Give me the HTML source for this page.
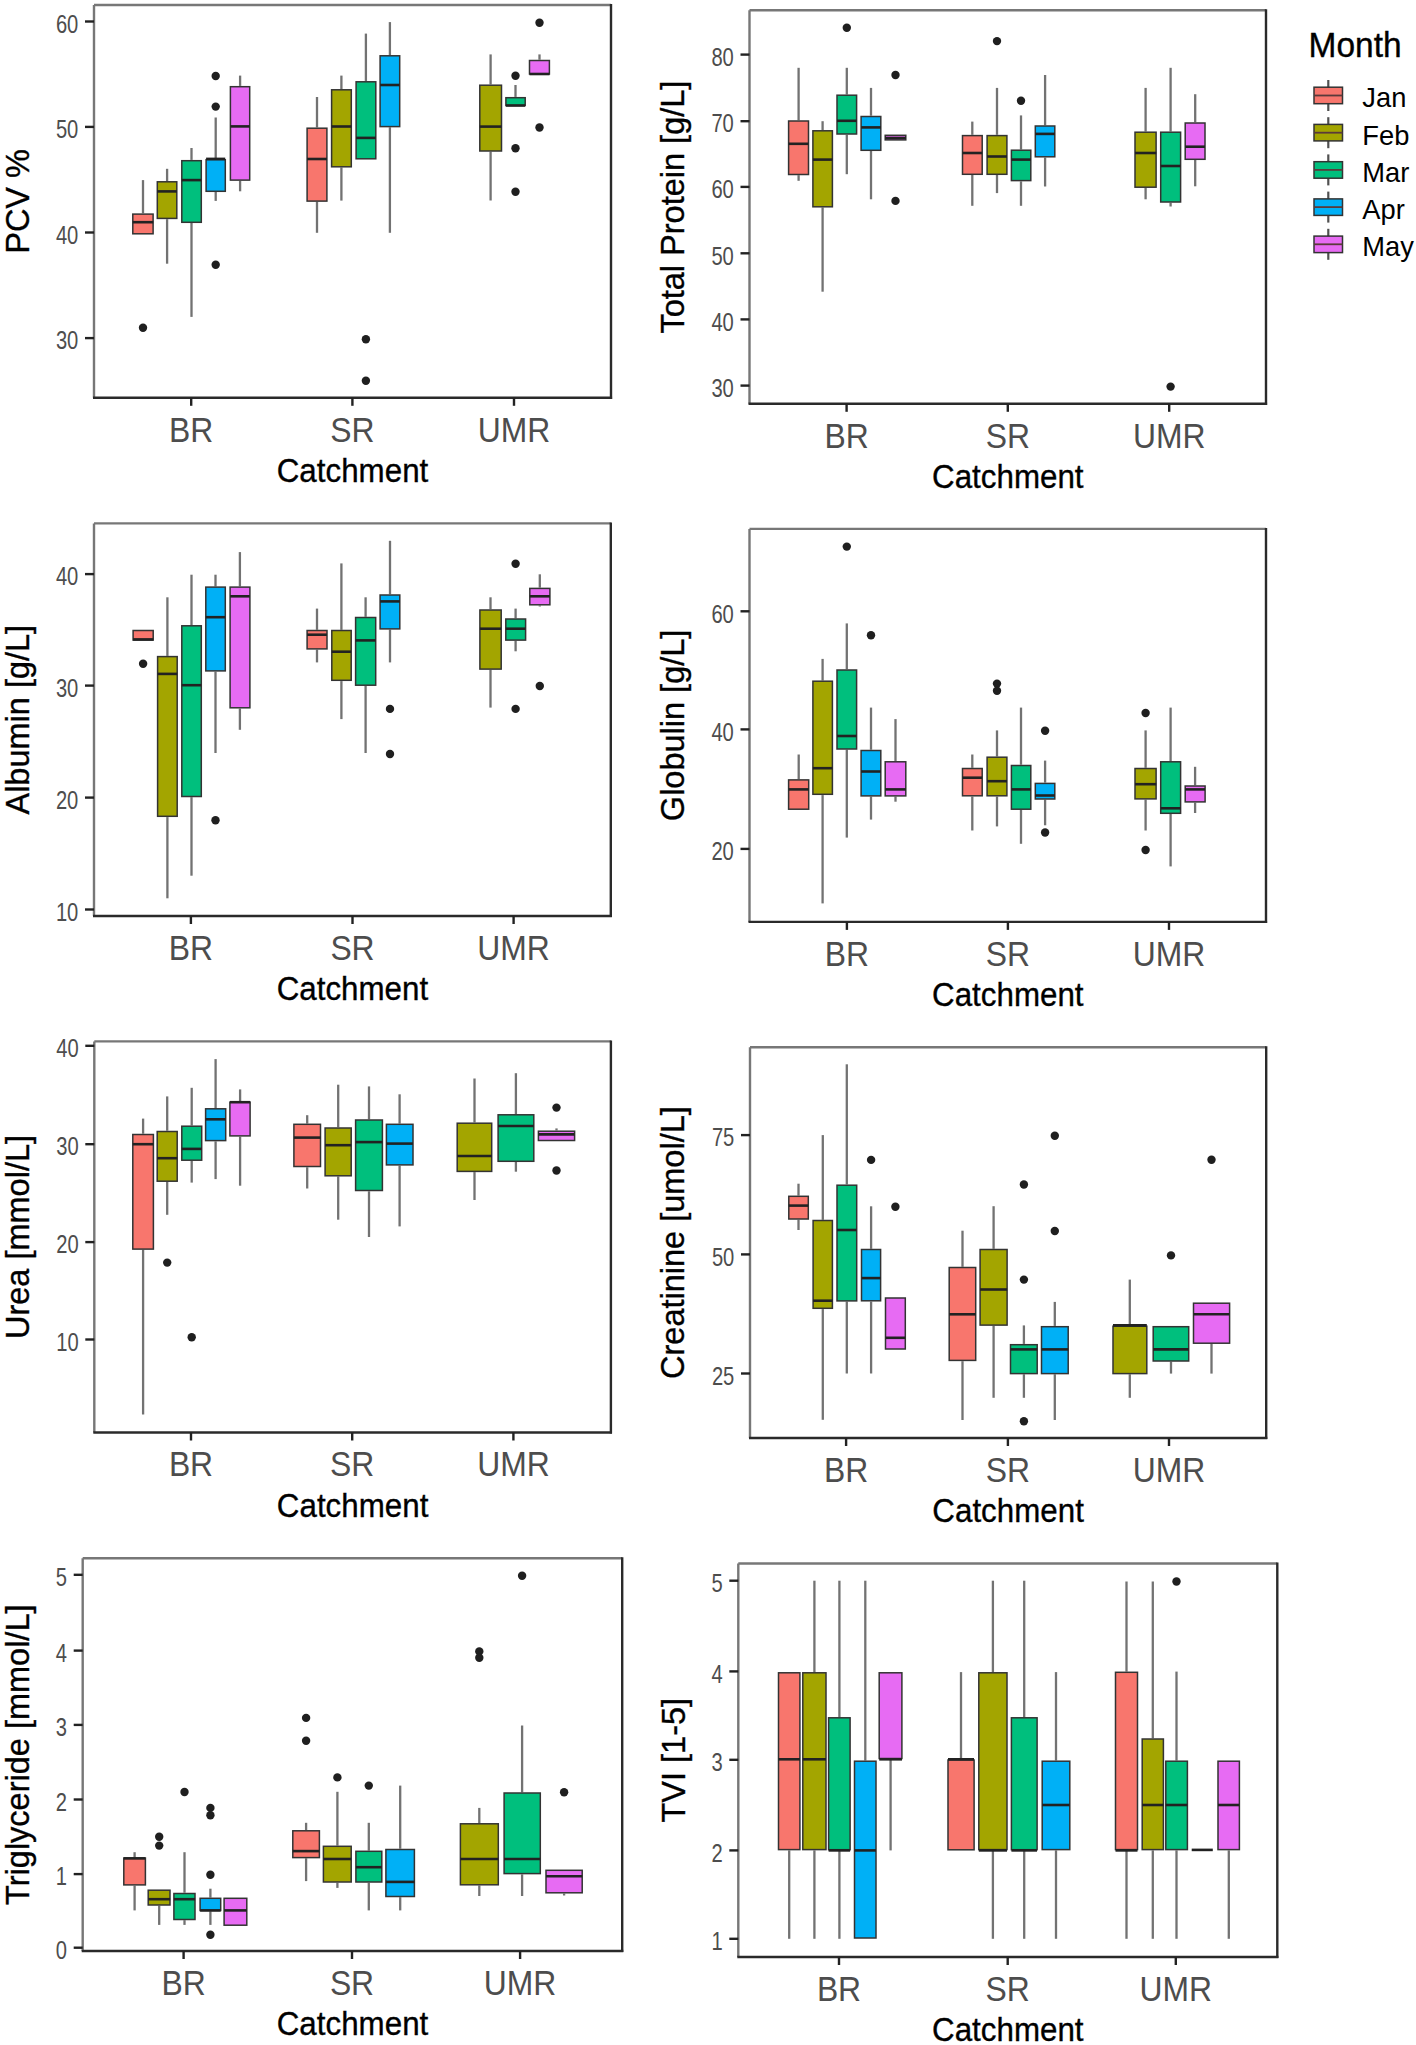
<!DOCTYPE html>
<html><head><meta charset="utf-8"><style>
html,body{margin:0;padding:0;background:#fff;overflow:hidden;}
svg{display:block;}
text{font-family:"Liberation Sans",sans-serif;}
.o{fill:#1f1f1f;}
.w{stroke:#727272;stroke-width:2.3;}
.bx{stroke:#333333;stroke-width:1.5;}
.md{stroke:#222;stroke-width:2.6;}
.lw{stroke:#505050;stroke-width:2.2;}
.lmd{stroke:#5a3a3a;stroke-width:1.8;}
.frl{stroke:#777;stroke-width:2.4;}
.frd{stroke:#2a2a2a;stroke-width:2.4;}
.fr{fill:none;stroke:#222;stroke-width:1.8;}
.tk{stroke:#222;stroke-width:2.4;}
.yt{font-size:25.2px;fill:#4d4d4d;text-anchor:end;}
.xt{font-size:35px;fill:#4d4d4d;text-anchor:middle;}
.xl{font-size:33px;fill:#000;text-anchor:middle;stroke:#000;stroke-width:0.35;}
.yl{font-size:32.5px;fill:#000;text-anchor:middle;stroke:#000;stroke-width:0.35;}
.lt{font-size:35px;fill:#000;stroke:#000;stroke-width:0.35;}
.lg{font-size:27.3px;fill:#000;}
</style></head>
<body><svg width="1416" height="2045" viewBox="0 0 1416 2045">
<rect width="1416" height="2045" fill="#fff"/>
<circle cx="143.0" cy="327.8" r="4.2" class="o"/>
<line x1="143.0" y1="180.1" x2="143.0" y2="213.3" class="w"/>
<rect x="132.8" y="214.1" width="20.3" height="19.7" fill="#F8766D" class="bx"/>
<line x1="132.8" y1="222.2" x2="153.2" y2="222.2" class="md"/>
<line x1="167.1" y1="168.8" x2="167.1" y2="181.1" class="w"/>
<line x1="167.1" y1="219.2" x2="167.1" y2="263.7" class="w"/>
<rect x="157.3" y="181.8" width="19.5" height="36.6" fill="#A3A500" class="bx"/>
<line x1="157.3" y1="191.4" x2="176.8" y2="191.4" class="md"/>
<line x1="191.5" y1="148.0" x2="191.5" y2="159.9" class="w"/>
<line x1="191.5" y1="223.0" x2="191.5" y2="316.9" class="w"/>
<rect x="181.8" y="160.7" width="19.5" height="61.6" fill="#00BF7D" class="bx"/>
<line x1="181.8" y1="180.1" x2="201.2" y2="180.1" class="md"/>
<circle cx="215.7" cy="76.0" r="4.2" class="o"/>
<circle cx="215.7" cy="106.6" r="4.2" class="o"/>
<circle cx="215.7" cy="264.7" r="4.2" class="o"/>
<line x1="215.7" y1="117.5" x2="215.7" y2="158.9" class="w"/>
<line x1="215.7" y1="192.0" x2="215.7" y2="200.9" class="w"/>
<rect x="206.1" y="159.7" width="19.2" height="31.6" fill="#00B0F6" class="bx"/>
<line x1="206.1" y1="158.9" x2="225.2" y2="158.9" class="md"/>
<line x1="240.1" y1="75.6" x2="240.1" y2="85.9" class="w"/>
<line x1="240.1" y1="180.8" x2="240.1" y2="191.3" class="w"/>
<rect x="230.4" y="86.7" width="19.3" height="93.4" fill="#E76BF3" class="bx"/>
<line x1="230.4" y1="126.4" x2="249.8" y2="126.4" class="md"/>
<line x1="317.0" y1="97.0" x2="317.0" y2="127.4" class="w"/>
<line x1="317.0" y1="201.8" x2="317.0" y2="232.8" class="w"/>
<rect x="307.1" y="128.2" width="19.8" height="72.9" fill="#F8766D" class="bx"/>
<line x1="307.1" y1="159.0" x2="326.9" y2="159.0" class="md"/>
<line x1="341.4" y1="75.6" x2="341.4" y2="89.0" class="w"/>
<line x1="341.4" y1="167.5" x2="341.4" y2="200.6" class="w"/>
<rect x="331.6" y="89.8" width="19.7" height="77.0" fill="#A3A500" class="bx"/>
<line x1="331.6" y1="126.5" x2="351.2" y2="126.5" class="md"/>
<circle cx="365.9" cy="339.3" r="4.2" class="o"/>
<circle cx="365.9" cy="380.8" r="4.2" class="o"/>
<line x1="365.9" y1="33.6" x2="365.9" y2="81.1" class="w"/>
<rect x="356.1" y="81.8" width="19.7" height="77.0" fill="#00BF7D" class="bx"/>
<line x1="356.1" y1="137.9" x2="375.8" y2="137.9" class="md"/>
<line x1="389.9" y1="22.1" x2="389.9" y2="55.0" class="w"/>
<line x1="389.9" y1="127.3" x2="389.9" y2="232.8" class="w"/>
<rect x="380.1" y="55.8" width="19.6" height="70.8" fill="#00B0F6" class="bx"/>
<line x1="380.1" y1="85.0" x2="399.8" y2="85.0" class="md"/>
<line x1="490.6" y1="54.4" x2="490.6" y2="84.4" class="w"/>
<line x1="490.6" y1="151.7" x2="490.6" y2="200.5" class="w"/>
<rect x="479.8" y="85.2" width="21.7" height="65.8" fill="#A3A500" class="bx"/>
<line x1="479.8" y1="126.6" x2="501.4" y2="126.6" class="md"/>
<circle cx="515.5" cy="75.7" r="4.2" class="o"/>
<circle cx="515.5" cy="148.3" r="4.2" class="o"/>
<circle cx="515.5" cy="191.8" r="4.2" class="o"/>
<line x1="515.5" y1="85.0" x2="515.5" y2="96.9" class="w"/>
<rect x="505.9" y="97.7" width="19.3" height="7.8" fill="#00BF7D" class="bx"/>
<line x1="505.9" y1="105.5" x2="525.1" y2="105.5" class="md"/>
<circle cx="539.5" cy="22.7" r="4.2" class="o"/>
<circle cx="539.5" cy="127.5" r="4.2" class="o"/>
<line x1="539.5" y1="54.4" x2="539.5" y2="59.7" class="w"/>
<rect x="529.5" y="60.5" width="19.9" height="13.5" fill="#E76BF3" class="bx"/>
<line x1="529.5" y1="74.0" x2="549.5" y2="74.0" class="md"/>
<line x1="94.0" y1="5.0" x2="611.0" y2="5.0" class="frl"/>
<line x1="94.0" y1="5.0" x2="94.0" y2="397.8" class="frl"/>
<line x1="611.0" y1="4.0" x2="611.0" y2="398.9" class="frd"/>
<line x1="93.0" y1="397.8" x2="612.1" y2="397.8" class="frd"/>
<line x1="85.0" y1="21.5" x2="94.0" y2="21.5" class="tk"/>
<text transform="translate(78.3,32.7) scale(0.8,1)" class="yt">60</text>
<line x1="85.0" y1="126.9" x2="94.0" y2="126.9" class="tk"/>
<text transform="translate(78.3,138.1) scale(0.8,1)" class="yt">50</text>
<line x1="85.0" y1="232.5" x2="94.0" y2="232.5" class="tk"/>
<text transform="translate(78.3,243.7) scale(0.8,1)" class="yt">40</text>
<line x1="85.0" y1="338.1" x2="94.0" y2="338.1" class="tk"/>
<text transform="translate(78.3,349.3) scale(0.8,1)" class="yt">30</text>
<line x1="191.2" y1="397.8" x2="191.2" y2="405.8" class="tk"/>
<text transform="translate(191.2,441.6) scale(0.91,1)" class="xt">BR</text>
<line x1="352.4" y1="397.8" x2="352.4" y2="405.8" class="tk"/>
<text transform="translate(352.4,441.6) scale(0.91,1)" class="xt">SR</text>
<line x1="514.0" y1="397.8" x2="514.0" y2="405.8" class="tk"/>
<text transform="translate(514.0,441.6) scale(0.91,1)" class="xt">UMR</text>
<text transform="translate(352.5,481.8) scale(0.95,1)" class="xl">Catchment</text>
<text transform="translate(29.4,201.4) rotate(-90)" class="yl">PCV %</text>
<line x1="798.6" y1="67.8" x2="798.6" y2="120.2" class="w"/>
<line x1="798.6" y1="175.2" x2="798.6" y2="180.8" class="w"/>
<rect x="788.6" y="121.0" width="19.9" height="53.5" fill="#F8766D" class="bx"/>
<line x1="788.6" y1="143.8" x2="808.5" y2="143.8" class="md"/>
<line x1="822.6" y1="121.2" x2="822.6" y2="130.0" class="w"/>
<line x1="822.6" y1="207.5" x2="822.6" y2="291.7" class="w"/>
<rect x="812.9" y="130.8" width="19.5" height="76.0" fill="#A3A500" class="bx"/>
<line x1="812.9" y1="159.6" x2="832.4" y2="159.6" class="md"/>
<circle cx="846.8" cy="27.7" r="4.2" class="o"/>
<line x1="846.8" y1="67.8" x2="846.8" y2="94.5" class="w"/>
<line x1="846.8" y1="134.8" x2="846.8" y2="174.2" class="w"/>
<rect x="837.0" y="95.2" width="19.6" height="38.8" fill="#00BF7D" class="bx"/>
<line x1="837.0" y1="120.8" x2="856.5" y2="120.8" class="md"/>
<line x1="871.0" y1="87.9" x2="871.0" y2="115.7" class="w"/>
<line x1="871.0" y1="151.0" x2="871.0" y2="199.3" class="w"/>
<rect x="861.1" y="116.5" width="19.7" height="33.8" fill="#00B0F6" class="bx"/>
<line x1="861.1" y1="127.4" x2="880.9" y2="127.4" class="md"/>
<circle cx="895.5" cy="75.0" r="4.2" class="o"/>
<circle cx="895.5" cy="200.9" r="4.2" class="o"/>
<rect x="885.2" y="135.3" width="20.6" height="4.6" fill="#E76BF3" class="bx"/>
<line x1="885.2" y1="138.0" x2="905.9" y2="138.0" class="md"/>
<line x1="972.3" y1="121.6" x2="972.3" y2="134.8" class="w"/>
<line x1="972.3" y1="175.0" x2="972.3" y2="205.8" class="w"/>
<rect x="962.5" y="135.6" width="19.7" height="38.7" fill="#F8766D" class="bx"/>
<line x1="962.5" y1="153.0" x2="982.1" y2="153.0" class="md"/>
<circle cx="997.0" cy="41.1" r="4.2" class="o"/>
<line x1="997.0" y1="87.9" x2="997.0" y2="134.8" class="w"/>
<line x1="997.0" y1="175.0" x2="997.0" y2="193.1" class="w"/>
<rect x="987.1" y="135.6" width="19.8" height="38.7" fill="#A3A500" class="bx"/>
<line x1="987.1" y1="156.5" x2="1007.0" y2="156.5" class="md"/>
<circle cx="1021.0" cy="100.7" r="4.2" class="o"/>
<line x1="1021.0" y1="115.4" x2="1021.0" y2="149.5" class="w"/>
<line x1="1021.0" y1="181.4" x2="1021.0" y2="205.8" class="w"/>
<rect x="1011.4" y="150.2" width="19.4" height="30.4" fill="#00BF7D" class="bx"/>
<line x1="1011.4" y1="159.6" x2="1030.8" y2="159.6" class="md"/>
<line x1="1045.1" y1="75.0" x2="1045.1" y2="125.3" class="w"/>
<line x1="1045.1" y1="157.6" x2="1045.1" y2="186.5" class="w"/>
<rect x="1035.3" y="126.0" width="19.5" height="30.8" fill="#00B0F6" class="bx"/>
<line x1="1035.3" y1="133.9" x2="1054.8" y2="133.9" class="md"/>
<line x1="1145.6" y1="87.9" x2="1145.6" y2="131.5" class="w"/>
<line x1="1145.6" y1="188.0" x2="1145.6" y2="199.3" class="w"/>
<rect x="1135.0" y="132.2" width="21.1" height="55.0" fill="#A3A500" class="bx"/>
<line x1="1135.0" y1="153.0" x2="1156.2" y2="153.0" class="md"/>
<circle cx="1170.6" cy="386.6" r="4.2" class="o"/>
<line x1="1170.6" y1="67.8" x2="1170.6" y2="131.5" class="w"/>
<line x1="1170.6" y1="202.8" x2="1170.6" y2="206.5" class="w"/>
<rect x="1160.7" y="132.2" width="19.9" height="69.8" fill="#00BF7D" class="bx"/>
<line x1="1160.7" y1="166.0" x2="1180.5" y2="166.0" class="md"/>
<line x1="1195.2" y1="94.2" x2="1195.2" y2="122.2" class="w"/>
<line x1="1195.2" y1="160.0" x2="1195.2" y2="186.3" class="w"/>
<rect x="1185.2" y="123.0" width="19.8" height="36.3" fill="#E76BF3" class="bx"/>
<line x1="1185.2" y1="146.7" x2="1205.0" y2="146.7" class="md"/>
<line x1="749.5" y1="10.3" x2="1266.0" y2="10.3" class="frl"/>
<line x1="749.5" y1="10.3" x2="749.5" y2="403.8" class="frl"/>
<line x1="1266.0" y1="9.3" x2="1266.0" y2="404.9" class="frd"/>
<line x1="748.5" y1="403.8" x2="1267.1" y2="403.8" class="frd"/>
<line x1="740.5" y1="54.6" x2="749.5" y2="54.6" class="tk"/>
<text transform="translate(733.8,65.8) scale(0.8,1)" class="yt">80</text>
<line x1="740.5" y1="121.2" x2="749.5" y2="121.2" class="tk"/>
<text transform="translate(733.8,132.4) scale(0.8,1)" class="yt">70</text>
<line x1="740.5" y1="186.9" x2="749.5" y2="186.9" class="tk"/>
<text transform="translate(733.8,198.1) scale(0.8,1)" class="yt">60</text>
<line x1="740.5" y1="253.3" x2="749.5" y2="253.3" class="tk"/>
<text transform="translate(733.8,264.5) scale(0.8,1)" class="yt">50</text>
<line x1="740.5" y1="319.4" x2="749.5" y2="319.4" class="tk"/>
<text transform="translate(733.8,330.6) scale(0.8,1)" class="yt">40</text>
<line x1="740.5" y1="385.6" x2="749.5" y2="385.6" class="tk"/>
<text transform="translate(733.8,396.8) scale(0.8,1)" class="yt">30</text>
<line x1="846.6" y1="403.8" x2="846.6" y2="411.8" class="tk"/>
<text transform="translate(846.6,447.6) scale(0.91,1)" class="xt">BR</text>
<line x1="1007.8" y1="403.8" x2="1007.8" y2="411.8" class="tk"/>
<text transform="translate(1007.8,447.6) scale(0.91,1)" class="xt">SR</text>
<line x1="1169.2" y1="403.8" x2="1169.2" y2="411.8" class="tk"/>
<text transform="translate(1169.2,447.6) scale(0.91,1)" class="xt">UMR</text>
<text transform="translate(1007.8,487.8) scale(0.95,1)" class="xl">Catchment</text>
<text transform="translate(684.2,207.1) rotate(-90)" class="yl">Total Protein [g/L]</text>
<circle cx="143.1" cy="663.7" r="4.2" class="o"/>
<rect x="133.1" y="630.5" width="20.1" height="9.6" fill="#F8766D" class="bx"/>
<line x1="133.1" y1="639.4" x2="153.2" y2="639.4" class="md"/>
<line x1="167.4" y1="597.3" x2="167.4" y2="655.9" class="w"/>
<line x1="167.4" y1="817.1" x2="167.4" y2="898.3" class="w"/>
<rect x="157.6" y="656.6" width="19.6" height="159.7" fill="#A3A500" class="bx"/>
<line x1="157.6" y1="673.9" x2="177.2" y2="673.9" class="md"/>
<line x1="191.5" y1="574.7" x2="191.5" y2="625.0" class="w"/>
<line x1="191.5" y1="797.2" x2="191.5" y2="875.7" class="w"/>
<rect x="181.8" y="625.8" width="19.5" height="170.7" fill="#00BF7D" class="bx"/>
<line x1="181.8" y1="685.2" x2="201.2" y2="685.2" class="md"/>
<circle cx="215.5" cy="820.2" r="4.2" class="o"/>
<line x1="215.5" y1="574.7" x2="215.5" y2="586.4" class="w"/>
<line x1="215.5" y1="671.7" x2="215.5" y2="753.0" class="w"/>
<rect x="205.8" y="587.1" width="19.5" height="83.8" fill="#00B0F6" class="bx"/>
<line x1="205.8" y1="617.2" x2="225.2" y2="617.2" class="md"/>
<line x1="239.9" y1="552.1" x2="239.9" y2="586.4" class="w"/>
<line x1="239.9" y1="708.6" x2="239.9" y2="729.8" class="w"/>
<rect x="230.1" y="587.1" width="19.8" height="120.7" fill="#E76BF3" class="bx"/>
<line x1="230.1" y1="596.3" x2="249.8" y2="596.3" class="md"/>
<line x1="317.0" y1="608.6" x2="317.0" y2="629.8" class="w"/>
<line x1="317.0" y1="649.7" x2="317.0" y2="662.4" class="w"/>
<rect x="307.1" y="630.5" width="19.9" height="18.4" fill="#F8766D" class="bx"/>
<line x1="307.1" y1="634.7" x2="326.9" y2="634.7" class="md"/>
<line x1="341.4" y1="563.4" x2="341.4" y2="629.8" class="w"/>
<line x1="341.4" y1="681.1" x2="341.4" y2="719.1" class="w"/>
<rect x="331.8" y="630.5" width="19.4" height="49.8" fill="#A3A500" class="bx"/>
<line x1="331.8" y1="651.7" x2="351.1" y2="651.7" class="md"/>
<line x1="365.6" y1="597.3" x2="365.6" y2="616.8" class="w"/>
<line x1="365.6" y1="686.0" x2="365.6" y2="753.0" class="w"/>
<rect x="355.6" y="617.5" width="20.1" height="67.7" fill="#00BF7D" class="bx"/>
<line x1="355.6" y1="640.4" x2="375.6" y2="640.4" class="md"/>
<circle cx="390.0" cy="708.9" r="4.2" class="o"/>
<circle cx="390.0" cy="754.0" r="4.2" class="o"/>
<line x1="390.0" y1="540.8" x2="390.0" y2="594.2" class="w"/>
<line x1="390.0" y1="629.6" x2="390.0" y2="662.4" class="w"/>
<rect x="380.1" y="595.0" width="19.7" height="33.9" fill="#00B0F6" class="bx"/>
<line x1="380.1" y1="601.4" x2="399.9" y2="601.4" class="md"/>
<line x1="490.5" y1="597.3" x2="490.5" y2="609.2" class="w"/>
<line x1="490.5" y1="669.8" x2="490.5" y2="707.6" class="w"/>
<rect x="479.9" y="610.0" width="21.3" height="59.1" fill="#A3A500" class="bx"/>
<line x1="479.9" y1="628.7" x2="501.1" y2="628.7" class="md"/>
<circle cx="515.6" cy="563.8" r="4.2" class="o"/>
<circle cx="515.6" cy="708.9" r="4.2" class="o"/>
<line x1="515.6" y1="608.6" x2="515.6" y2="618.3" class="w"/>
<line x1="515.6" y1="640.9" x2="515.6" y2="651.3" class="w"/>
<rect x="505.8" y="619.0" width="19.8" height="21.1" fill="#00BF7D" class="bx"/>
<line x1="505.8" y1="628.7" x2="525.5" y2="628.7" class="md"/>
<circle cx="539.8" cy="686.0" r="4.2" class="o"/>
<line x1="539.8" y1="574.3" x2="539.8" y2="587.6" class="w"/>
<line x1="539.8" y1="605.5" x2="539.8" y2="606.5" class="w"/>
<rect x="529.8" y="588.4" width="20.1" height="16.4" fill="#E76BF3" class="bx"/>
<line x1="529.8" y1="596.3" x2="549.9" y2="596.3" class="md"/>
<line x1="94.0" y1="523.4" x2="610.8" y2="523.4" class="frl"/>
<line x1="94.0" y1="523.4" x2="94.0" y2="916.0" class="frl"/>
<line x1="610.8" y1="522.4" x2="610.8" y2="917.1" class="frd"/>
<line x1="93.0" y1="916.0" x2="611.9" y2="916.0" class="frd"/>
<line x1="85.0" y1="574.1" x2="94.0" y2="574.1" class="tk"/>
<text transform="translate(78.3,585.3) scale(0.8,1)" class="yt">40</text>
<line x1="85.0" y1="685.6" x2="94.0" y2="685.6" class="tk"/>
<text transform="translate(78.3,696.8) scale(0.8,1)" class="yt">30</text>
<line x1="85.0" y1="797.6" x2="94.0" y2="797.6" class="tk"/>
<text transform="translate(78.3,808.8) scale(0.8,1)" class="yt">20</text>
<line x1="85.0" y1="909.5" x2="94.0" y2="909.5" class="tk"/>
<text transform="translate(78.3,920.7) scale(0.8,1)" class="yt">10</text>
<line x1="190.9" y1="916.0" x2="190.9" y2="924.0" class="tk"/>
<text transform="translate(190.9,959.8) scale(0.91,1)" class="xt">BR</text>
<line x1="352.5" y1="916.0" x2="352.5" y2="924.0" class="tk"/>
<text transform="translate(352.5,959.8) scale(0.91,1)" class="xt">SR</text>
<line x1="513.6" y1="916.0" x2="513.6" y2="924.0" class="tk"/>
<text transform="translate(513.6,959.8) scale(0.91,1)" class="xt">UMR</text>
<text transform="translate(352.4,1000.0) scale(0.95,1)" class="xl">Catchment</text>
<text transform="translate(29.4,719.7) rotate(-90)" class="yl">Albumin [g/L]</text>
<line x1="798.7" y1="754.5" x2="798.7" y2="779.1" class="w"/>
<rect x="788.6" y="779.9" width="20.1" height="29.3" fill="#F8766D" class="bx"/>
<line x1="788.6" y1="789.4" x2="808.8" y2="789.4" class="md"/>
<line x1="822.6" y1="658.9" x2="822.6" y2="680.5" class="w"/>
<line x1="822.6" y1="795.1" x2="822.6" y2="903.4" class="w"/>
<rect x="812.9" y="681.2" width="19.5" height="113.1" fill="#A3A500" class="bx"/>
<line x1="812.9" y1="768.2" x2="832.4" y2="768.2" class="md"/>
<circle cx="846.8" cy="546.6" r="4.2" class="o"/>
<line x1="846.8" y1="623.4" x2="846.8" y2="669.2" class="w"/>
<line x1="846.8" y1="749.7" x2="846.8" y2="837.6" class="w"/>
<rect x="837.0" y="670.0" width="19.6" height="79.0" fill="#00BF7D" class="bx"/>
<line x1="837.0" y1="736.0" x2="856.5" y2="736.0" class="md"/>
<circle cx="871.0" cy="635.3" r="4.2" class="o"/>
<line x1="871.0" y1="707.6" x2="871.0" y2="749.7" class="w"/>
<line x1="871.0" y1="796.6" x2="871.0" y2="819.6" class="w"/>
<rect x="861.1" y="750.5" width="19.7" height="45.4" fill="#00B0F6" class="bx"/>
<line x1="861.1" y1="771.5" x2="880.9" y2="771.5" class="md"/>
<line x1="895.5" y1="719.1" x2="895.5" y2="761.0" class="w"/>
<line x1="895.5" y1="796.6" x2="895.5" y2="801.7" class="w"/>
<rect x="885.2" y="761.8" width="20.6" height="34.1" fill="#E76BF3" class="bx"/>
<line x1="885.2" y1="789.4" x2="905.9" y2="789.4" class="md"/>
<line x1="972.3" y1="754.5" x2="972.3" y2="767.8" class="w"/>
<line x1="972.3" y1="796.6" x2="972.3" y2="830.5" class="w"/>
<rect x="962.5" y="768.5" width="19.7" height="27.3" fill="#F8766D" class="bx"/>
<line x1="962.5" y1="777.7" x2="982.1" y2="777.7" class="md"/>
<circle cx="997.0" cy="683.6" r="4.2" class="o"/>
<circle cx="997.0" cy="690.8" r="4.2" class="o"/>
<line x1="997.0" y1="730.4" x2="997.0" y2="756.5" class="w"/>
<line x1="997.0" y1="796.6" x2="997.0" y2="826.4" class="w"/>
<rect x="987.1" y="757.2" width="19.8" height="38.6" fill="#A3A500" class="bx"/>
<line x1="987.1" y1="781.2" x2="1007.0" y2="781.2" class="md"/>
<line x1="1021.0" y1="707.6" x2="1021.0" y2="764.7" class="w"/>
<line x1="1021.0" y1="809.9" x2="1021.0" y2="843.8" class="w"/>
<rect x="1011.4" y="765.5" width="19.4" height="43.7" fill="#00BF7D" class="bx"/>
<line x1="1011.4" y1="789.4" x2="1030.8" y2="789.4" class="md"/>
<circle cx="1045.1" cy="730.8" r="4.2" class="o"/>
<circle cx="1045.1" cy="832.5" r="4.2" class="o"/>
<line x1="1045.1" y1="760.6" x2="1045.1" y2="782.6" class="w"/>
<line x1="1045.1" y1="799.7" x2="1045.1" y2="825.3" class="w"/>
<rect x="1035.3" y="783.4" width="19.5" height="15.6" fill="#00B0F6" class="bx"/>
<line x1="1035.3" y1="795.5" x2="1054.8" y2="795.5" class="md"/>
<circle cx="1145.6" cy="713.0" r="4.2" class="o"/>
<circle cx="1145.6" cy="850.0" r="4.2" class="o"/>
<line x1="1145.6" y1="730.4" x2="1145.6" y2="767.8" class="w"/>
<line x1="1145.6" y1="799.7" x2="1145.6" y2="830.5" class="w"/>
<rect x="1135.0" y="768.5" width="21.1" height="30.4" fill="#A3A500" class="bx"/>
<line x1="1135.0" y1="784.2" x2="1156.2" y2="784.2" class="md"/>
<line x1="1170.6" y1="707.6" x2="1170.6" y2="761.0" class="w"/>
<line x1="1170.6" y1="814.0" x2="1170.6" y2="866.4" class="w"/>
<rect x="1160.7" y="761.8" width="19.9" height="51.5" fill="#00BF7D" class="bx"/>
<line x1="1160.7" y1="808.3" x2="1180.5" y2="808.3" class="md"/>
<line x1="1195.1" y1="766.8" x2="1195.1" y2="785.3" class="w"/>
<line x1="1195.1" y1="802.7" x2="1195.1" y2="813.0" class="w"/>
<rect x="1185.2" y="786.0" width="19.9" height="15.9" fill="#E76BF3" class="bx"/>
<line x1="1185.2" y1="789.4" x2="1205.0" y2="789.4" class="md"/>
<line x1="749.5" y1="528.9" x2="1266.0" y2="528.9" class="frl"/>
<line x1="749.5" y1="528.9" x2="749.5" y2="921.9" class="frl"/>
<line x1="1266.0" y1="527.9" x2="1266.0" y2="923.0" class="frd"/>
<line x1="748.5" y1="921.9" x2="1267.1" y2="921.9" class="frd"/>
<line x1="740.5" y1="611.3" x2="749.5" y2="611.3" class="tk"/>
<text transform="translate(733.8,622.5) scale(0.8,1)" class="yt">60</text>
<line x1="740.5" y1="729.4" x2="749.5" y2="729.4" class="tk"/>
<text transform="translate(733.8,740.6) scale(0.8,1)" class="yt">40</text>
<line x1="740.5" y1="848.9" x2="749.5" y2="848.9" class="tk"/>
<text transform="translate(733.8,860.1) scale(0.8,1)" class="yt">20</text>
<line x1="846.9" y1="921.9" x2="846.9" y2="929.9" class="tk"/>
<text transform="translate(846.9,965.7) scale(0.91,1)" class="xt">BR</text>
<line x1="1007.9" y1="921.9" x2="1007.9" y2="929.9" class="tk"/>
<text transform="translate(1007.9,965.7) scale(0.91,1)" class="xt">SR</text>
<line x1="1169.0" y1="921.9" x2="1169.0" y2="929.9" class="tk"/>
<text transform="translate(1169.0,965.7) scale(0.91,1)" class="xt">UMR</text>
<text transform="translate(1007.8,1005.9) scale(0.95,1)" class="xl">Catchment</text>
<text transform="translate(684.2,725.4) rotate(-90)" class="yl">Globulin [g/L]</text>
<line x1="143.1" y1="1118.6" x2="143.1" y2="1133.7" class="w"/>
<line x1="143.1" y1="1249.8" x2="143.1" y2="1414.5" class="w"/>
<rect x="132.8" y="1134.5" width="20.6" height="114.6" fill="#F8766D" class="bx"/>
<line x1="132.8" y1="1144.2" x2="153.4" y2="1144.2" class="md"/>
<circle cx="167.2" cy="1262.6" r="4.2" class="o"/>
<line x1="167.2" y1="1096.4" x2="167.2" y2="1130.7" class="w"/>
<line x1="167.2" y1="1181.9" x2="167.2" y2="1214.8" class="w"/>
<rect x="157.2" y="1131.5" width="20.0" height="49.7" fill="#A3A500" class="bx"/>
<line x1="157.2" y1="1158.2" x2="177.2" y2="1158.2" class="md"/>
<circle cx="191.7" cy="1337.2" r="4.2" class="o"/>
<line x1="191.7" y1="1087.8" x2="191.7" y2="1125.5" class="w"/>
<line x1="191.7" y1="1161.0" x2="191.7" y2="1182.6" class="w"/>
<rect x="181.8" y="1126.2" width="19.9" height="34.0" fill="#00BF7D" class="bx"/>
<line x1="181.8" y1="1148.9" x2="201.7" y2="1148.9" class="md"/>
<line x1="215.6" y1="1059.1" x2="215.6" y2="1108.1" class="w"/>
<line x1="215.6" y1="1141.4" x2="215.6" y2="1179.1" class="w"/>
<rect x="205.6" y="1108.8" width="20.1" height="31.8" fill="#00B0F6" class="bx"/>
<line x1="205.6" y1="1119.3" x2="225.7" y2="1119.3" class="md"/>
<line x1="240.1" y1="1089.4" x2="240.1" y2="1101.5" class="w"/>
<line x1="240.1" y1="1136.7" x2="240.1" y2="1185.7" class="w"/>
<rect x="229.9" y="1102.2" width="20.2" height="33.7" fill="#E76BF3" class="bx"/>
<line x1="229.9" y1="1102.2" x2="250.2" y2="1102.2" class="md"/>
<line x1="307.2" y1="1115.2" x2="307.2" y2="1123.6" class="w"/>
<line x1="307.2" y1="1167.3" x2="307.2" y2="1188.5" class="w"/>
<rect x="293.9" y="1124.3" width="26.6" height="42.2" fill="#F8766D" class="bx"/>
<line x1="293.9" y1="1137.6" x2="320.6" y2="1137.6" class="md"/>
<line x1="338.2" y1="1084.7" x2="338.2" y2="1127.2" class="w"/>
<line x1="338.2" y1="1176.5" x2="338.2" y2="1219.7" class="w"/>
<rect x="325.1" y="1128.0" width="26.1" height="47.8" fill="#A3A500" class="bx"/>
<line x1="325.1" y1="1145.2" x2="351.2" y2="1145.2" class="md"/>
<line x1="369.0" y1="1086.4" x2="369.0" y2="1119.3" class="w"/>
<line x1="369.0" y1="1191.3" x2="369.0" y2="1237.0" class="w"/>
<rect x="355.6" y="1120.0" width="26.8" height="70.5" fill="#00BF7D" class="bx"/>
<line x1="355.6" y1="1142.1" x2="382.4" y2="1142.1" class="md"/>
<line x1="399.6" y1="1094.3" x2="399.6" y2="1123.6" class="w"/>
<line x1="399.6" y1="1165.7" x2="399.6" y2="1226.4" class="w"/>
<rect x="386.4" y="1124.3" width="26.6" height="40.6" fill="#00B0F6" class="bx"/>
<line x1="386.4" y1="1143.6" x2="412.9" y2="1143.6" class="md"/>
<line x1="474.5" y1="1078.5" x2="474.5" y2="1122.4" class="w"/>
<line x1="474.5" y1="1172.1" x2="474.5" y2="1200.0" class="w"/>
<rect x="457.2" y="1123.2" width="34.5" height="48.2" fill="#A3A500" class="bx"/>
<line x1="457.2" y1="1156.0" x2="491.8" y2="1156.0" class="md"/>
<line x1="515.9" y1="1073.2" x2="515.9" y2="1114.0" class="w"/>
<line x1="515.9" y1="1162.0" x2="515.9" y2="1171.7" class="w"/>
<rect x="498.1" y="1114.8" width="35.7" height="46.5" fill="#00BF7D" class="bx"/>
<line x1="498.1" y1="1126.0" x2="533.8" y2="1126.0" class="md"/>
<circle cx="556.5" cy="1107.6" r="4.2" class="o"/>
<circle cx="556.5" cy="1170.5" r="4.2" class="o"/>
<line x1="556.5" y1="1128.4" x2="556.5" y2="1130.4" class="w"/>
<rect x="538.4" y="1131.2" width="36.2" height="9.3" fill="#E76BF3" class="bx"/>
<line x1="538.4" y1="1134.4" x2="574.5" y2="1134.4" class="md"/>
<line x1="94.3" y1="1041.4" x2="610.9" y2="1041.4" class="frl"/>
<line x1="94.3" y1="1041.4" x2="94.3" y2="1432.5" class="frl"/>
<line x1="610.9" y1="1040.4" x2="610.9" y2="1433.6" class="frd"/>
<line x1="93.3" y1="1432.5" x2="612.0" y2="1432.5" class="frd"/>
<line x1="85.3" y1="1045.8" x2="94.3" y2="1045.8" class="tk"/>
<text transform="translate(78.6,1057.0) scale(0.8,1)" class="yt">40</text>
<line x1="85.3" y1="1144.2" x2="94.3" y2="1144.2" class="tk"/>
<text transform="translate(78.6,1155.4) scale(0.8,1)" class="yt">30</text>
<line x1="85.3" y1="1242.1" x2="94.3" y2="1242.1" class="tk"/>
<text transform="translate(78.6,1253.3) scale(0.8,1)" class="yt">20</text>
<line x1="85.3" y1="1339.5" x2="94.3" y2="1339.5" class="tk"/>
<text transform="translate(78.6,1350.7) scale(0.8,1)" class="yt">10</text>
<line x1="191.0" y1="1432.5" x2="191.0" y2="1440.5" class="tk"/>
<text transform="translate(191.0,1476.3) scale(0.91,1)" class="xt">BR</text>
<line x1="352.2" y1="1432.5" x2="352.2" y2="1440.5" class="tk"/>
<text transform="translate(352.2,1476.3) scale(0.91,1)" class="xt">SR</text>
<line x1="513.4" y1="1432.5" x2="513.4" y2="1440.5" class="tk"/>
<text transform="translate(513.4,1476.3) scale(0.91,1)" class="xt">UMR</text>
<text transform="translate(352.6,1516.5) scale(0.95,1)" class="xl">Catchment</text>
<text transform="translate(29.4,1237.0) rotate(-90)" class="yl">Urea [mmol/L]</text>
<line x1="798.5" y1="1183.7" x2="798.5" y2="1195.6" class="w"/>
<line x1="798.5" y1="1219.8" x2="798.5" y2="1230.0" class="w"/>
<rect x="788.8" y="1196.3" width="19.5" height="22.7" fill="#F8766D" class="bx"/>
<line x1="788.8" y1="1205.6" x2="808.2" y2="1205.6" class="md"/>
<line x1="822.8" y1="1135.1" x2="822.8" y2="1219.8" class="w"/>
<line x1="822.8" y1="1309.1" x2="822.8" y2="1419.8" class="w"/>
<rect x="813.1" y="1220.5" width="19.3" height="87.8" fill="#A3A500" class="bx"/>
<line x1="813.1" y1="1300.7" x2="832.5" y2="1300.7" class="md"/>
<line x1="846.8" y1="1064.3" x2="846.8" y2="1184.4" class="w"/>
<line x1="846.8" y1="1301.6" x2="846.8" y2="1373.5" class="w"/>
<rect x="837.0" y="1185.2" width="19.7" height="115.7" fill="#00BF7D" class="bx"/>
<line x1="837.0" y1="1230.0" x2="856.6" y2="1230.0" class="md"/>
<circle cx="871.1" cy="1159.9" r="4.2" class="o"/>
<line x1="871.1" y1="1206.3" x2="871.1" y2="1248.8" class="w"/>
<line x1="871.1" y1="1301.6" x2="871.1" y2="1373.5" class="w"/>
<rect x="861.5" y="1249.5" width="19.1" height="51.3" fill="#00B0F6" class="bx"/>
<line x1="861.5" y1="1278.1" x2="880.6" y2="1278.1" class="md"/>
<circle cx="895.4" cy="1206.7" r="4.2" class="o"/>
<rect x="885.5" y="1298.0" width="19.8" height="51.0" fill="#E76BF3" class="bx"/>
<line x1="885.5" y1="1337.8" x2="905.2" y2="1337.8" class="md"/>
<line x1="962.5" y1="1230.7" x2="962.5" y2="1266.8" class="w"/>
<line x1="962.5" y1="1361.2" x2="962.5" y2="1420.0" class="w"/>
<rect x="949.2" y="1267.5" width="26.5" height="92.9" fill="#F8766D" class="bx"/>
<line x1="949.2" y1="1314.3" x2="975.8" y2="1314.3" class="md"/>
<line x1="993.6" y1="1206.2" x2="993.6" y2="1248.8" class="w"/>
<line x1="993.6" y1="1325.9" x2="993.6" y2="1397.8" class="w"/>
<rect x="980.1" y="1249.5" width="27.0" height="75.6" fill="#A3A500" class="bx"/>
<line x1="980.1" y1="1289.5" x2="1007.1" y2="1289.5" class="md"/>
<circle cx="1023.9" cy="1184.5" r="4.2" class="o"/>
<circle cx="1023.9" cy="1279.6" r="4.2" class="o"/>
<circle cx="1023.9" cy="1421.3" r="4.2" class="o"/>
<line x1="1023.9" y1="1325.4" x2="1023.9" y2="1343.9" class="w"/>
<line x1="1023.9" y1="1374.3" x2="1023.9" y2="1397.8" class="w"/>
<rect x="1010.5" y="1344.7" width="26.7" height="28.9" fill="#00BF7D" class="bx"/>
<line x1="1010.5" y1="1349.4" x2="1037.2" y2="1349.4" class="md"/>
<circle cx="1054.8" cy="1135.8" r="4.2" class="o"/>
<circle cx="1054.8" cy="1231.0" r="4.2" class="o"/>
<line x1="1054.8" y1="1301.9" x2="1054.8" y2="1325.9" class="w"/>
<line x1="1054.8" y1="1374.3" x2="1054.8" y2="1420.0" class="w"/>
<rect x="1041.5" y="1326.7" width="26.7" height="46.9" fill="#00B0F6" class="bx"/>
<line x1="1041.5" y1="1349.4" x2="1068.2" y2="1349.4" class="md"/>
<line x1="1129.8" y1="1279.6" x2="1129.8" y2="1325.4" class="w"/>
<line x1="1129.8" y1="1374.3" x2="1129.8" y2="1397.8" class="w"/>
<rect x="1113.0" y="1326.2" width="33.8" height="47.4" fill="#A3A500" class="bx"/>
<line x1="1113.0" y1="1325.4" x2="1146.8" y2="1325.4" class="md"/>
<circle cx="1171.0" cy="1255.4" r="4.2" class="o"/>
<line x1="1171.0" y1="1361.7" x2="1171.0" y2="1373.6" class="w"/>
<rect x="1153.2" y="1326.7" width="35.5" height="34.3" fill="#00BF7D" class="bx"/>
<line x1="1153.2" y1="1349.4" x2="1188.8" y2="1349.4" class="md"/>
<circle cx="1211.5" cy="1159.8" r="4.2" class="o"/>
<line x1="1211.5" y1="1343.9" x2="1211.5" y2="1373.6" class="w"/>
<rect x="1193.5" y="1303.2" width="36.1" height="40.0" fill="#E76BF3" class="bx"/>
<line x1="1193.5" y1="1314.3" x2="1229.5" y2="1314.3" class="md"/>
<line x1="750.0" y1="1047.2" x2="1266.2" y2="1047.2" class="frl"/>
<line x1="750.0" y1="1047.2" x2="750.0" y2="1438.0" class="frl"/>
<line x1="1266.2" y1="1046.2" x2="1266.2" y2="1439.1" class="frd"/>
<line x1="749.0" y1="1438.0" x2="1267.3" y2="1438.0" class="frd"/>
<line x1="741.0" y1="1135.1" x2="750.0" y2="1135.1" class="tk"/>
<text transform="translate(734.3,1146.3) scale(0.8,1)" class="yt">75</text>
<line x1="741.0" y1="1254.4" x2="750.0" y2="1254.4" class="tk"/>
<text transform="translate(734.3,1265.6) scale(0.8,1)" class="yt">50</text>
<line x1="741.0" y1="1373.5" x2="750.0" y2="1373.5" class="tk"/>
<text transform="translate(734.3,1384.7) scale(0.8,1)" class="yt">25</text>
<line x1="846.1" y1="1438.0" x2="846.1" y2="1446.0" class="tk"/>
<text transform="translate(846.1,1481.8) scale(0.91,1)" class="xt">BR</text>
<line x1="1007.9" y1="1438.0" x2="1007.9" y2="1446.0" class="tk"/>
<text transform="translate(1007.9,1481.8) scale(0.91,1)" class="xt">SR</text>
<line x1="1169.0" y1="1438.0" x2="1169.0" y2="1446.0" class="tk"/>
<text transform="translate(1169.0,1481.8) scale(0.91,1)" class="xt">UMR</text>
<text transform="translate(1008.1,1522.0) scale(0.95,1)" class="xl">Catchment</text>
<text transform="translate(684.2,1242.6) rotate(-90)" class="yl">Creatinine [umol/L]</text>
<line x1="134.6" y1="1852.2" x2="134.6" y2="1857.3" class="w"/>
<line x1="134.6" y1="1885.7" x2="134.6" y2="1910.4" class="w"/>
<rect x="123.8" y="1858.0" width="21.6" height="26.9" fill="#F8766D" class="bx"/>
<line x1="123.8" y1="1858.4" x2="145.3" y2="1858.4" class="md"/>
<circle cx="159.2" cy="1836.8" r="4.2" class="o"/>
<circle cx="159.2" cy="1845.6" r="4.2" class="o"/>
<line x1="159.2" y1="1905.7" x2="159.2" y2="1924.9" class="w"/>
<rect x="148.2" y="1890.2" width="21.8" height="14.8" fill="#A3A500" class="bx"/>
<line x1="148.2" y1="1899.2" x2="170.1" y2="1899.2" class="md"/>
<circle cx="184.5" cy="1792.0" r="4.2" class="o"/>
<line x1="184.5" y1="1852.2" x2="184.5" y2="1892.7" class="w"/>
<line x1="184.5" y1="1920.2" x2="184.5" y2="1924.9" class="w"/>
<rect x="173.9" y="1893.5" width="21.1" height="26.0" fill="#00BF7D" class="bx"/>
<line x1="173.9" y1="1899.2" x2="195.1" y2="1899.2" class="md"/>
<circle cx="210.4" cy="1807.9" r="4.2" class="o"/>
<circle cx="210.4" cy="1815.3" r="4.2" class="o"/>
<circle cx="210.4" cy="1874.8" r="4.2" class="o"/>
<circle cx="210.4" cy="1934.7" r="4.2" class="o"/>
<line x1="210.4" y1="1888.7" x2="210.4" y2="1897.6" class="w"/>
<line x1="210.4" y1="1911.3" x2="210.4" y2="1924.9" class="w"/>
<rect x="200.1" y="1898.3" width="20.6" height="12.2" fill="#00B0F6" class="bx"/>
<line x1="200.1" y1="1910.4" x2="220.7" y2="1910.4" class="md"/>
<rect x="224.1" y="1898.3" width="22.7" height="26.9" fill="#E76BF3" class="bx"/>
<line x1="224.1" y1="1910.4" x2="246.8" y2="1910.4" class="md"/>
<circle cx="306.1" cy="1717.9" r="4.2" class="o"/>
<circle cx="306.1" cy="1740.7" r="4.2" class="o"/>
<line x1="306.1" y1="1822.8" x2="306.1" y2="1830.0" class="w"/>
<line x1="306.1" y1="1858.3" x2="306.1" y2="1881.1" class="w"/>
<rect x="292.8" y="1830.8" width="26.6" height="26.8" fill="#F8766D" class="bx"/>
<line x1="292.8" y1="1851.1" x2="319.4" y2="1851.1" class="md"/>
<circle cx="337.4" cy="1777.4" r="4.2" class="o"/>
<line x1="337.4" y1="1791.8" x2="337.4" y2="1845.6" class="w"/>
<line x1="337.4" y1="1882.8" x2="337.4" y2="1887.9" class="w"/>
<rect x="323.4" y="1846.3" width="27.8" height="35.7" fill="#A3A500" class="bx"/>
<line x1="323.4" y1="1859.0" x2="351.2" y2="1859.0" class="md"/>
<circle cx="368.8" cy="1785.6" r="4.2" class="o"/>
<line x1="368.8" y1="1822.8" x2="368.8" y2="1850.6" class="w"/>
<line x1="368.8" y1="1882.8" x2="368.8" y2="1910.4" class="w"/>
<rect x="355.9" y="1851.3" width="25.9" height="30.7" fill="#00BF7D" class="bx"/>
<line x1="355.9" y1="1867.2" x2="381.8" y2="1867.2" class="md"/>
<line x1="400.2" y1="1785.6" x2="400.2" y2="1848.7" class="w"/>
<line x1="400.2" y1="1897.2" x2="400.2" y2="1910.4" class="w"/>
<rect x="385.9" y="1849.5" width="28.5" height="47.0" fill="#00B0F6" class="bx"/>
<line x1="385.9" y1="1881.9" x2="414.4" y2="1881.9" class="md"/>
<circle cx="479.3" cy="1651.4" r="4.2" class="o"/>
<circle cx="479.3" cy="1657.8" r="4.2" class="o"/>
<line x1="479.3" y1="1807.9" x2="479.3" y2="1823.0" class="w"/>
<line x1="479.3" y1="1885.5" x2="479.3" y2="1896.0" class="w"/>
<rect x="460.4" y="1823.8" width="37.9" height="61.0" fill="#A3A500" class="bx"/>
<line x1="460.4" y1="1859.0" x2="498.2" y2="1859.0" class="md"/>
<circle cx="522.1" cy="1575.7" r="4.2" class="o"/>
<line x1="522.1" y1="1725.5" x2="522.1" y2="1792.3" class="w"/>
<line x1="522.1" y1="1874.4" x2="522.1" y2="1896.0" class="w"/>
<rect x="504.1" y="1793.0" width="36.2" height="80.6" fill="#00BF7D" class="bx"/>
<line x1="504.1" y1="1859.0" x2="540.2" y2="1859.0" class="md"/>
<circle cx="564.1" cy="1792.3" r="4.2" class="o"/>
<line x1="564.1" y1="1893.6" x2="564.1" y2="1895.5" class="w"/>
<rect x="546.0" y="1870.3" width="36.2" height="22.5" fill="#E76BF3" class="bx"/>
<line x1="546.0" y1="1876.3" x2="582.2" y2="1876.3" class="md"/>
<line x1="82.7" y1="1558.3" x2="622.2" y2="1558.3" class="frl"/>
<line x1="82.7" y1="1558.3" x2="82.7" y2="1951.0" class="frl"/>
<line x1="622.2" y1="1557.3" x2="622.2" y2="1952.1" class="frd"/>
<line x1="81.7" y1="1951.0" x2="623.3" y2="1951.0" class="frd"/>
<line x1="73.7" y1="1574.8" x2="82.7" y2="1574.8" class="tk"/>
<text transform="translate(67.0,1586.0) scale(0.8,1)" class="yt">5</text>
<line x1="73.7" y1="1650.6" x2="82.7" y2="1650.6" class="tk"/>
<text transform="translate(67.0,1661.8) scale(0.8,1)" class="yt">4</text>
<line x1="73.7" y1="1724.9" x2="82.7" y2="1724.9" class="tk"/>
<text transform="translate(67.0,1736.1) scale(0.8,1)" class="yt">3</text>
<line x1="73.7" y1="1799.5" x2="82.7" y2="1799.5" class="tk"/>
<text transform="translate(67.0,1810.7) scale(0.8,1)" class="yt">2</text>
<line x1="73.7" y1="1874.1" x2="82.7" y2="1874.1" class="tk"/>
<text transform="translate(67.0,1885.3) scale(0.8,1)" class="yt">1</text>
<line x1="73.7" y1="1947.7" x2="82.7" y2="1947.7" class="tk"/>
<text transform="translate(67.0,1958.9) scale(0.8,1)" class="yt">0</text>
<line x1="183.6" y1="1951.0" x2="183.6" y2="1959.0" class="tk"/>
<text transform="translate(183.6,1994.8) scale(0.91,1)" class="xt">BR</text>
<line x1="352.0" y1="1951.0" x2="352.0" y2="1959.0" class="tk"/>
<text transform="translate(352.0,1994.8) scale(0.91,1)" class="xt">SR</text>
<line x1="520.1" y1="1951.0" x2="520.1" y2="1959.0" class="tk"/>
<text transform="translate(520.1,1994.8) scale(0.91,1)" class="xt">UMR</text>
<text transform="translate(352.5,2035.0) scale(0.95,1)" class="xl">Catchment</text>
<text transform="translate(29.2,1754.7) rotate(-90)" class="yl">Triglyceride [mmol/L]</text>
<line x1="789.2" y1="1850.4" x2="789.2" y2="1938.8" class="w"/>
<rect x="778.5" y="1672.8" width="21.4" height="176.8" fill="#F8766D" class="bx"/>
<line x1="778.5" y1="1759.3" x2="800.0" y2="1759.3" class="md"/>
<line x1="814.4" y1="1580.7" x2="814.4" y2="1672.1" class="w"/>
<line x1="814.4" y1="1850.4" x2="814.4" y2="1938.8" class="w"/>
<rect x="802.8" y="1672.8" width="23.2" height="176.8" fill="#A3A500" class="bx"/>
<line x1="802.8" y1="1759.3" x2="826.0" y2="1759.3" class="md"/>
<line x1="839.4" y1="1580.7" x2="839.4" y2="1717.0" class="w"/>
<line x1="839.4" y1="1850.4" x2="839.4" y2="1938.8" class="w"/>
<rect x="828.6" y="1717.8" width="21.5" height="131.9" fill="#00BF7D" class="bx"/>
<line x1="828.6" y1="1850.4" x2="850.1" y2="1850.4" class="md"/>
<line x1="865.3" y1="1580.7" x2="865.3" y2="1760.5" class="w"/>
<rect x="854.5" y="1761.2" width="21.5" height="176.8" fill="#00B0F6" class="bx"/>
<line x1="854.5" y1="1850.4" x2="876.0" y2="1850.4" class="md"/>
<line x1="890.6" y1="1759.3" x2="890.6" y2="1850.4" class="w"/>
<rect x="879.2" y="1672.8" width="22.7" height="85.7" fill="#E76BF3" class="bx"/>
<line x1="879.2" y1="1759.3" x2="902.0" y2="1759.3" class="md"/>
<line x1="961.0" y1="1672.1" x2="961.0" y2="1759.3" class="w"/>
<rect x="948.0" y="1760.0" width="26.1" height="89.8" fill="#F8766D" class="bx"/>
<line x1="948.0" y1="1759.3" x2="974.0" y2="1759.3" class="md"/>
<line x1="992.9" y1="1580.7" x2="992.9" y2="1672.1" class="w"/>
<line x1="992.9" y1="1850.4" x2="992.9" y2="1938.8" class="w"/>
<rect x="978.8" y="1672.8" width="28.2" height="176.8" fill="#A3A500" class="bx"/>
<line x1="978.8" y1="1850.4" x2="1007.0" y2="1850.4" class="md"/>
<line x1="1024.2" y1="1580.7" x2="1024.2" y2="1717.0" class="w"/>
<line x1="1024.2" y1="1850.4" x2="1024.2" y2="1938.8" class="w"/>
<rect x="1011.4" y="1717.8" width="25.7" height="131.9" fill="#00BF7D" class="bx"/>
<line x1="1011.4" y1="1850.4" x2="1037.0" y2="1850.4" class="md"/>
<line x1="1056.0" y1="1672.1" x2="1056.0" y2="1760.5" class="w"/>
<line x1="1056.0" y1="1850.4" x2="1056.0" y2="1938.8" class="w"/>
<rect x="1042.2" y="1761.2" width="27.6" height="88.4" fill="#00B0F6" class="bx"/>
<line x1="1042.2" y1="1805.0" x2="1069.8" y2="1805.0" class="md"/>
<line x1="1126.5" y1="1581.5" x2="1126.5" y2="1671.6" class="w"/>
<line x1="1126.5" y1="1850.4" x2="1126.5" y2="1938.8" class="w"/>
<rect x="1115.5" y="1672.3" width="22.0" height="177.3" fill="#F8766D" class="bx"/>
<line x1="1115.5" y1="1850.4" x2="1137.5" y2="1850.4" class="md"/>
<line x1="1152.8" y1="1581.5" x2="1152.8" y2="1738.3" class="w"/>
<line x1="1152.8" y1="1850.4" x2="1152.8" y2="1938.8" class="w"/>
<rect x="1142.2" y="1739.0" width="21.2" height="110.6" fill="#A3A500" class="bx"/>
<line x1="1142.2" y1="1805.0" x2="1163.5" y2="1805.0" class="md"/>
<circle cx="1176.5" cy="1581.5" r="4.2" class="o"/>
<line x1="1176.5" y1="1671.6" x2="1176.5" y2="1760.5" class="w"/>
<line x1="1176.5" y1="1850.4" x2="1176.5" y2="1938.8" class="w"/>
<rect x="1165.8" y="1761.2" width="21.6" height="88.4" fill="#00BF7D" class="bx"/>
<line x1="1165.8" y1="1805.0" x2="1187.3" y2="1805.0" class="md"/>
<line x1="1191.7" y1="1849.9" x2="1212.8" y2="1849.9" class="md"/>
<line x1="1228.8" y1="1850.4" x2="1228.8" y2="1938.8" class="w"/>
<rect x="1218.0" y="1761.2" width="21.4" height="88.4" fill="#E76BF3" class="bx"/>
<line x1="1218.0" y1="1805.0" x2="1239.5" y2="1805.0" class="md"/>
<line x1="738.3" y1="1563.5" x2="1277.3" y2="1563.5" class="frl"/>
<line x1="738.3" y1="1563.5" x2="738.3" y2="1957.0" class="frl"/>
<line x1="1277.3" y1="1562.5" x2="1277.3" y2="1958.1" class="frd"/>
<line x1="737.3" y1="1957.0" x2="1278.4" y2="1957.0" class="frd"/>
<line x1="729.3" y1="1580.7" x2="738.3" y2="1580.7" class="tk"/>
<text transform="translate(722.6,1591.9) scale(0.8,1)" class="yt">5</text>
<line x1="729.3" y1="1671.4" x2="738.3" y2="1671.4" class="tk"/>
<text transform="translate(722.6,1682.6) scale(0.8,1)" class="yt">4</text>
<line x1="729.3" y1="1759.8" x2="738.3" y2="1759.8" class="tk"/>
<text transform="translate(722.6,1771.0) scale(0.8,1)" class="yt">3</text>
<line x1="729.3" y1="1850.4" x2="738.3" y2="1850.4" class="tk"/>
<text transform="translate(722.6,1861.6) scale(0.8,1)" class="yt">2</text>
<line x1="729.3" y1="1938.8" x2="738.3" y2="1938.8" class="tk"/>
<text transform="translate(722.6,1950.0) scale(0.8,1)" class="yt">1</text>
<line x1="839.0" y1="1957.0" x2="839.0" y2="1965.0" class="tk"/>
<text transform="translate(839.0,2000.8) scale(0.91,1)" class="xt">BR</text>
<line x1="1007.7" y1="1957.0" x2="1007.7" y2="1965.0" class="tk"/>
<text transform="translate(1007.7,2000.8) scale(0.91,1)" class="xt">SR</text>
<line x1="1175.8" y1="1957.0" x2="1175.8" y2="1965.0" class="tk"/>
<text transform="translate(1175.8,2000.8) scale(0.91,1)" class="xt">UMR</text>
<text transform="translate(1007.8,2041.0) scale(0.95,1)" class="xl">Catchment</text>
<text transform="translate(684.5,1760.2) rotate(-90)" class="yl">TVI [1-5]</text>
<text transform="translate(1308.5,57.3) scale(0.957,1)" class="lt">Month</text>
<line x1="1328.3" y1="80.0" x2="1328.3" y2="111.0" class="lw"/>
<rect x="1314.0" y="87.2" width="28.5" height="16.5" fill="#F8766D" class="bx"/>
<line x1="1314.0" y1="95.5" x2="1342.5" y2="95.5" class="lmd"/>
<text x="1362.3" y="107.3" class="lg">Jan</text>
<line x1="1328.3" y1="117.2" x2="1328.3" y2="148.2" class="lw"/>
<rect x="1314.0" y="124.4" width="28.5" height="16.5" fill="#A3A500" class="bx"/>
<line x1="1314.0" y1="132.7" x2="1342.5" y2="132.7" class="lmd"/>
<text x="1362.3" y="144.5" class="lg">Feb</text>
<line x1="1328.3" y1="154.4" x2="1328.3" y2="185.4" class="lw"/>
<rect x="1314.0" y="161.7" width="28.5" height="16.5" fill="#00BF7D" class="bx"/>
<line x1="1314.0" y1="169.9" x2="1342.5" y2="169.9" class="lmd"/>
<text x="1362.3" y="181.7" class="lg">Mar</text>
<line x1="1328.3" y1="191.6" x2="1328.3" y2="222.6" class="lw"/>
<rect x="1314.0" y="198.9" width="28.5" height="16.5" fill="#00B0F6" class="bx"/>
<line x1="1314.0" y1="207.1" x2="1342.5" y2="207.1" class="lmd"/>
<text x="1362.3" y="218.9" class="lg">Apr</text>
<line x1="1328.3" y1="228.8" x2="1328.3" y2="259.8" class="lw"/>
<rect x="1314.0" y="236.1" width="28.5" height="16.5" fill="#E76BF3" class="bx"/>
<line x1="1314.0" y1="244.3" x2="1342.5" y2="244.3" class="lmd"/>
<text x="1362.3" y="256.1" class="lg">May</text>
</svg></body></html>
